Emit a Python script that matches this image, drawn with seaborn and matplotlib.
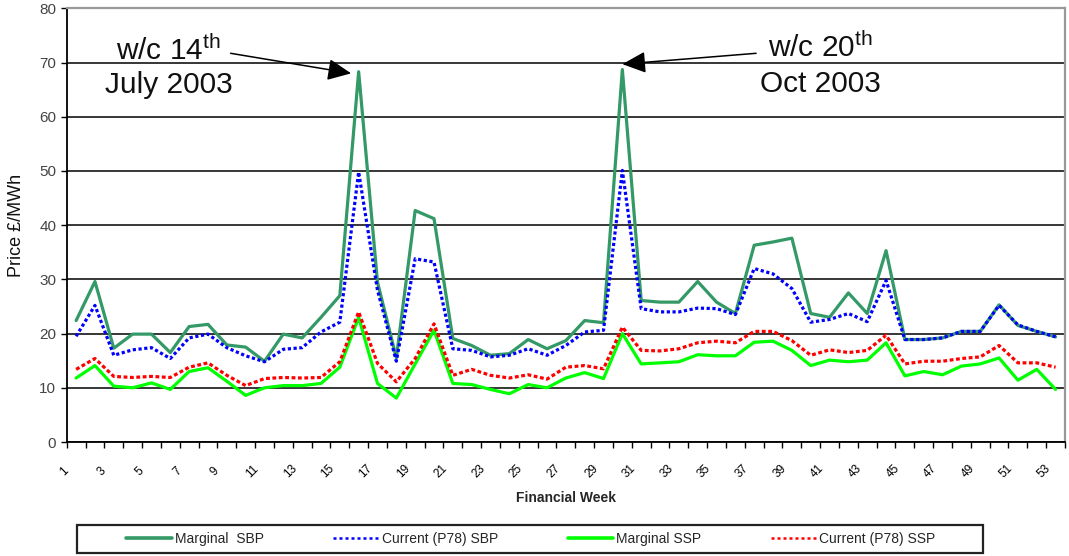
import numpy as np
import pandas as pd
import matplotlib
matplotlib.use("Agg")
import matplotlib.pyplot as plt
import matplotlib.transforms as mtransforms
from matplotlib.patches import Rectangle
from matplotlib.lines import Line2D
import seaborn as sns

# ---------------- data ----------------
weeks = list(range(1, 54))

marginal_sbp = [22.4, 29.6, 17.3, 19.9, 19.9, 16.5, 21.3, 21.7, 17.9, 17.5,
                14.9, 19.9, 19.2, 23.0, 27.0, 68.3, 29.5, 15.5, 42.7, 41.2,
                19.1, 17.8, 16.0, 16.3, 18.9, 17.2, 18.7, 22.4, 22.0, 68.7,
                26.1, 25.8, 25.8, 29.6, 25.8, 23.7, 36.3, 36.9, 37.6, 23.7,
                23.0, 27.5, 23.7, 35.3, 18.9, 18.9, 19.2, 20.4, 20.4, 25.3,
                21.5, 20.4, 19.4]

current_sbp = [19.5, 25.2, 16.0, 17.0, 17.4, 15.4, 19.2, 19.9, 17.4, 15.9,
               14.8, 17.1, 17.4, 20.3, 22.1, 49.8, 28.0, 14.9, 33.8, 33.2,
               17.2, 16.9, 15.7, 16.0, 17.2, 16.0, 17.8, 20.3, 20.6, 50.1,
               24.6, 24.0, 24.0, 24.7, 24.6, 23.5, 32.0, 31.0, 28.3, 22.1,
               22.6, 23.7, 22.2, 29.8, 18.9, 18.9, 19.2, 20.4, 20.4, 25.2,
               21.6, 20.4, 19.4]

marginal_ssp = [11.8, 14.1, 10.3, 10.0, 10.9, 9.7, 13.0, 13.7, 11.2, 8.6,
                10.0, 10.4, 10.4, 10.8, 13.8, 23.0, 10.8, 8.1, 14.4, 20.6,
                10.8, 10.6, 9.7, 8.9, 10.6, 10.0, 11.8, 12.8, 11.7, 20.0,
                14.4, 14.6, 14.8, 16.1, 15.9, 15.9, 18.4, 18.6, 16.9, 14.1,
                15.1, 14.8, 15.1, 18.3, 12.2, 13.0, 12.4, 14.0, 14.4, 15.5,
                11.4, 13.4, 9.7]

current_ssp = [13.4, 15.4, 12.1, 11.9, 12.1, 11.9, 13.8, 14.6, 12.3, 10.4,
               11.7, 11.9, 11.8, 11.9, 14.8, 24.0, 14.5, 11.1, 15.4, 21.8,
               12.3, 13.4, 12.3, 11.8, 12.4, 11.6, 13.8, 14.1, 13.5, 21.2,
               16.9, 16.8, 17.2, 18.3, 18.6, 18.3, 20.4, 20.4, 18.7, 16.0,
               17.0, 16.5, 16.9, 19.7, 14.4, 14.9, 14.9, 15.4, 15.7, 17.8,
               14.6, 14.6, 13.8]

series_names = ["Marginal  SBP", "Current (P78) SBP", "Marginal SSP", "Current (P78) SSP"]
y_ticks = list(range(0, 81, 10))
x_tick_labels = list(range(1, 54, 2))

# ---------------- styling ----------------
sns.set_style("white")
plt.rcParams["font.family"] = ["Liberation Sans", "DejaVu Sans"]
plt.rcParams["mathtext.fontset"] = "custom"
plt.rcParams["mathtext.rm"] = "Liberation Sans"
plt.rcParams["mathtext.it"] = "Liberation Sans"

palette = {series_names[0]: "#339966", series_names[1]: "#0000FF",
           series_names[2]: "#00FF00", series_names[3]: "#FF0000"}
dashes = {series_names[0]: "", series_names[1]: (1.0, 0.8),
          series_names[2]: "", series_names[3]: (1.2, 0.8)}

df = pd.DataFrame({
    "week": weeks * 4,
    "price": marginal_sbp + current_sbp + marginal_ssp + current_ssp,
    "series": sum([[n] * len(weeks) for n in series_names], []),
})

W, H = 1069, 556
fig = plt.figure(figsize=(W / 100, H / 100), dpi=100)
ax = fig.add_axes([66.7 / W, 1 - 442 / H, (1065 - 66.7) / W, (442 - 8.3) / H])

sns.lineplot(data=df, x="week", y="price", hue="series", style="series",
             hue_order=series_names, style_order=series_names,
             palette=palette, dashes=dashes, linewidth=2.3,
             legend=False, sort=False, ax=ax)

ax.set_xlim(0.5, 53.5)
ax.set_ylim(0, 80)

# y axis
ax.set_yticks(y_ticks)
ax.tick_params(axis="y", which="major", direction="out", length=4.5, width=1,
               color="black", labelsize=11, labelcolor="#444444", pad=3, left=True)
ax.yaxis.grid(True, color="black", linewidth=1.1)
ax.xaxis.grid(False)
ax.set_axisbelow(True)

# x axis: ticks between categories, labels on odd weeks
ax.set_xticks(np.arange(0.5, 54, 1.0))
ax.set_xticklabels([])
ax.set_xticks(x_tick_labels, minor=True)
ax.set_xticklabels([str(v) for v in x_tick_labels], minor=True)
ax.tick_params(axis="x", which="major", direction="out", length=4, width=1,
               color="black", bottom=True)
ax.tick_params(axis="x", which="minor", length=0, labelsize=8.5, pad=21,
               labelcolor="black")
for lab in ax.get_xticklabels(minor=True):
    lab.set_rotation(45)
    lab.set_ha("center")
    lab.set_va("center")
    lab.set_rotation_mode("anchor")
offset = mtransforms.ScaledTranslation(-12 / 100, 0, fig.dpi_scale_trans)
for t in ax.xaxis.get_minor_ticks():
    t.label1.set_transform(t.label1.get_transform() + offset)

for s in ["left", "bottom"]:
    ax.spines[s].set_color("black")
    ax.spines[s].set_linewidth(1.3)
for s in ["top", "right"]:
    ax.spines[s].set_color("#999999")
    ax.spines[s].set_linewidth(1.6)

ax.set_xlabel("Financial Week", fontsize=10, fontweight="bold")
ax.xaxis.set_label_coords(0.5, -0.113)
ax.set_ylabel("Price £/MWh", fontsize=13, color="#111111")
ax.yaxis.set_label_coords(-0.042, 0.5)

# annotations
ax.text(5.9, 70.5, "w/c 14$^{\\mathrm{th}}$", fontsize=21.5, ha="center", va="baseline", color="#111111")
ax.text(5.9, 64.4, "July 2003", fontsize=21.5, ha="center", va="baseline", color="#111111")
ax.text(40.5, 71.0, "w/c 20$^{\\mathrm{th}}$", fontsize=21.5, ha="center", va="baseline", color="#111111")
ax.text(40.5, 64.6, "Oct 2003", fontsize=21.5, ha="center", va="baseline", color="#111111")
arrow_kw = dict(arrowstyle="-|>,head_length=1.2,head_width=0.55", mutation_scale=12,
                lw=1.1, color="black", shrinkA=0, shrinkB=0)
ax.annotate("", xy=(15.6, 68.0), xytext=(9.2, 71.7), arrowprops=arrow_kw)
ax.annotate("", xy=(30.0, 69.7), xytext=(37.1, 71.7), arrowprops=arrow_kw)

# legend
handles = []
for n in series_names:
    if dashes[n] == "":
        handles.append(Line2D([], [], color=palette[n], linewidth=2.6))
    else:
        h = Line2D([], [], color=palette[n], linewidth=1.8)
        h.set_dashes((1.2, 1.2))
        handles.append(h)
leg = fig.legend(handles, series_names, loc="center", bbox_to_anchor=(531 / W, 1 - 539 / H),
                 ncol=4, frameon=False, fontsize=10, handlelength=3.3,
                 handletextpad=0.2, columnspacing=5.0, borderpad=0.2)
fig.patches.append(Rectangle((77.3 / W, 1 - 553.3 / H), (983 - 77.3) / W, (553.3 - 525) / H,
                             transform=fig.transFigure, fill=False,
                             edgecolor="#222222", linewidth=1.6))

fig.savefig("out.png", dpi=100)
